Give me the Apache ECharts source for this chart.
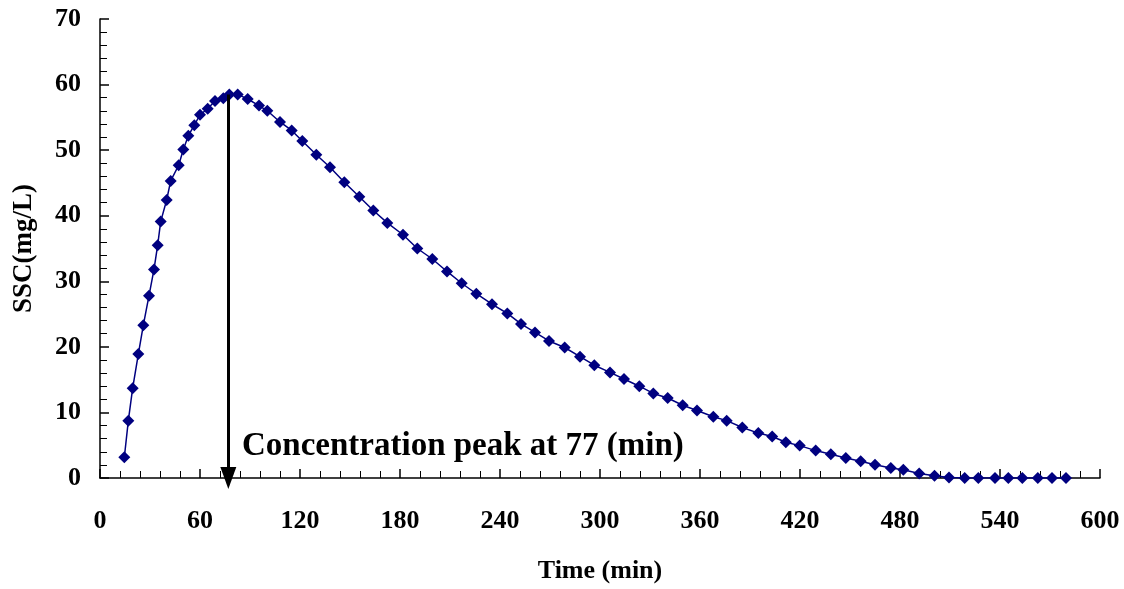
<!DOCTYPE html>
<html>
<head>
<meta charset="utf-8">
<script src="https://cdn.jsdelivr.net/npm/echarts@6/dist/echarts.min.js"></script>
<style>
html,body{margin:0;padding:0;background:#fff;}
#chart{width:1124px;height:589px;}
</style>
</head>
<body>
<div id="chart"></div>
<script>
const times = [14.6, 17, 19.6, 23, 26, 29.4, 32.4, 34.6, 36.4, 40, 42.4, 47.2, 50, 53, 56.6, 60, 64.6, 69, 74, 77.6, 82.6, 88.6, 95.4, 100.4, 108, 115, 121.4, 129.8, 138, 146.6, 155.6, 164, 172.4, 181.8, 190.4, 199.4, 208.2, 217, 225.8, 235.2, 244.4, 252.6, 261, 269.4, 278.8, 288, 296.6, 306, 314.4, 323.6, 332, 340.6, 349.6, 358.2, 368, 376, 385.4, 395, 403.3, 411.5, 419.8, 429.4, 438.5, 447.5, 456.4, 465, 474.5, 482, 491.5, 500.7, 509.4, 518.8, 527, 537, 545, 553.4, 562.7, 571.2, 579.6];
const ssc = [3.16, 8.74, 13.7, 18.9, 23.3, 27.8, 31.8, 35.5, 39.1, 42.4, 45.3, 47.7, 50.1, 52.2, 53.8, 55.4, 56.3, 57.5, 57.9, 58.5, 58.5, 57.8, 56.8, 56.0, 54.3, 53.0, 51.4, 49.3, 47.4, 45.1, 42.9, 40.8, 38.9, 37.1, 35.0, 33.4, 31.5, 29.7, 28.1, 26.5, 25.1, 23.5, 22.2, 20.9, 19.9, 18.5, 17.2, 16.1, 15.1, 14.0, 12.9, 12.2, 11.1, 10.3, 9.35, 8.75, 7.7, 6.85, 6.33, 5.46, 4.94, 4.18, 3.61, 3.05, 2.55, 2.03, 1.52, 1.27, 0.70, 0.34, 0.09, 0, 0, 0, 0, 0, 0, 0, 0];
const peakTime = 77;
const peakValue = 58.5;
const annotation = 'Concentration peak at 77 (min)';
const xName = 'Time (min)';
const yName = 'SSC(mg/L)';

const chart = echarts.init(document.getElementById('chart'));
const font = '"Liberation Serif", "Times New Roman", serif';
const axisCommon = {
  axisLine: {show: true, lineStyle: {color: '#000', width: 1.5}},
  axisTick: {show: true, inside: true, length: 9, lineStyle: {color: '#000', width: 1.5}},
  minorTick: {show: true, splitNumber: 5, length: 7, lineStyle: {color: '#000', width: 1}},
  splitLine: {show: false},
  axisLabel: {color: '#000', fontFamily: font, fontWeight: 'bold', fontSize: 26},
  nameTextStyle: {color: '#000', fontFamily: font, fontWeight: 'bold', fontSize: 26}
};
chart.setOption({
  animation: false,
  grid: {left: 100, right: 24, top: 19, bottom: 111},
  xAxis: Object.assign({}, axisCommon, {
    type: 'value', min: 0, max: 600, interval: 60,
    name: xName, nameLocation: 'middle', nameGap: 80,
    axisLabel: Object.assign({}, axisCommon.axisLabel, {margin: 30})
  }),
  yAxis: Object.assign({}, axisCommon, {
    type: 'value', min: 0, max: 70, interval: 10,
    name: yName, nameLocation: 'middle', nameGap: 62,
    nameTextStyle: Object.assign({}, axisCommon.nameTextStyle, {fontSize: 27}),
    axisLabel: Object.assign({}, axisCommon.axisLabel, {margin: 19})
  }),
  series: [{
    type: 'line',
    data: times.map((t, i) => [t, ssc[i]]),
    symbol: 'diamond',
    symbolSize: 12,
    lineStyle: {color: '#000080', width: 1.5},
    itemStyle: {color: '#000080'},
    markLine: {
      silent: true,
      symbol: ['none', 'triangle'],
      symbolSize: [16, 22],
      lineStyle: {color: '#000', width: 3, type: 'solid'},
      label: {show: false},
      data: [[{coord: [peakTime, peakValue]}, {coord: [peakTime, 0]}]]
    }
  }],
  graphic: [{
    type: 'text', left: 242, top: 430,
    style: {text: annotation, fill: '#000', font: 'bold 33px ' + font}
  }]
});
</script>
</body>
</html>
